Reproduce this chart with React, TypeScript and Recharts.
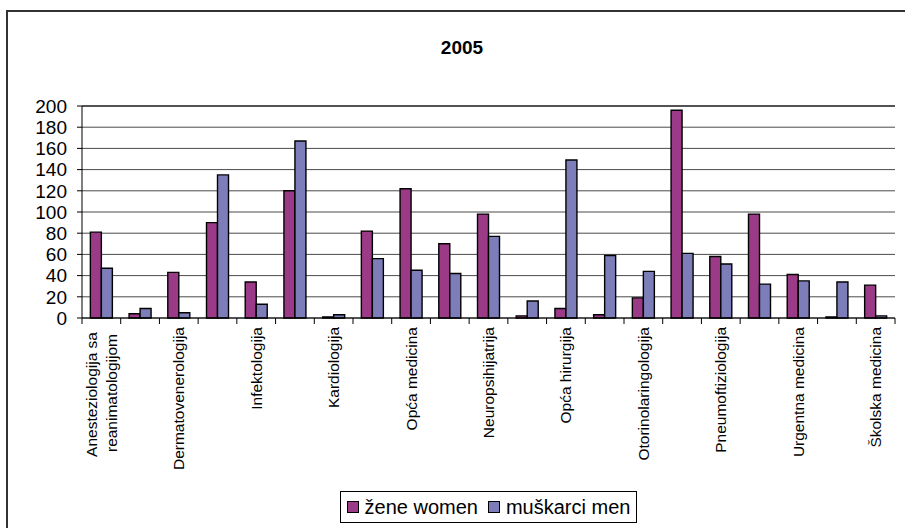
import React from "react";
import {
  BarChart,
  Bar,
  XAxis,
  YAxis,
  CartesianGrid,
  Legend,
  ReferenceLine,
} from "recharts";

const title = "2005";

// only every other category name is printed on the axis
const specialties = [
  "Anesteziologija sa\nreanimatologijom",
  "Citologija",
  "Dermatovenerologija",
  "Ginekologija i akušerstvo",
  "Infektologija",
  "Interna medicina",
  "Kardiologija",
  "Medicina rada",
  "Opća medicina",
  "Neurologija",
  "Neuropsihijatrija",
  "Neurohirurgija",
  "Opća hirurgija",
  "Ortopedija",
  "Otorinolaringologija",
  "Pedijatrija",
  "Pneumoftiziologija",
  "Psihijatrija",
  "Urgentna medicina",
  "Urologija",
  "Školska medicina",
];

const women = [81, 4, 43, 90, 34, 120, 1, 82, 122, 70, 98, 2, 9, 3, 19, 196, 58, 98, 41, 1, 31];
const men = [47, 9, 5, 135, 13, 167, 3, 56, 45, 42, 77, 16, 149, 59, 44, 61, 51, 32, 35, 34, 2];

const yTicks = [0, 20, 40, 60, 80, 100, 120, 140, 160, 180, 200];

const womenName = "žene women";
const menName = "muškarci men";
const seriesOrder = [womenName, menName];
const womenColor = "#9B3A87";
const menColor = "#7D7DBA";

const font = "'Liberation Sans', Arial, sans-serif";

const data = specialties.map((name, i) => ({
  name,
  zene: women[i],
  muski: men[i],
}));

const CategoryTick = (props: any) => {
  const { x, y, payload, index } = props;
  const n = specialties.length;
  const half = payload && payload.offset ? payload.offset : (props.width || 813) / n / 2;
  const lines = String(payload.value).split("\n");
  return (
    <g>
      <line x1={x - half} x2={x - half} y1={y} y2={y + 6} stroke="#000" />
      {index === n - 1 && (
        <line x1={x + half} x2={x + half} y1={y} y2={y + 6} stroke="#000" />
      )}
      {index % 2 === 0 &&
        lines.map((line, k) => {
          const shift = lines.length === 1 ? 0 : k === 0 ? -10 : 10;
          const top = lines.length === 1 ? 9 : k === 0 ? 14 : 16;
          return (
            <text
              key={k}
              transform={`translate(${x + shift},${y + top}) rotate(-90)`}
              textAnchor="end"
              dy="0.35em"
              fontSize={15.5}
              fontFamily={font}
              fill="#000"
            >
              {line}
            </text>
          );
        })}
    </g>
  );
};

const LegendBox = (props: any) => {
  const items = [...(props.payload || [])].sort(
    (a: any, b: any) => seriesOrder.indexOf(a.value) - seriesOrder.indexOf(b.value)
  );
  return (
    <div
      style={{
        display: "inline-flex",
        alignItems: "center",
        height: 30,
        border: "1px solid #000",
        background: "#fff",
        padding: "0 6px",
        fontFamily: font,
        fontSize: 20,
        color: "#000",
        whiteSpace: "nowrap",
      }}
    >
      {items.map((item: any, i: number) => (
        <span
          key={item.value}
          style={{
            display: "inline-flex",
            alignItems: "center",
            marginRight: i < items.length - 1 ? 10 : 0,
          }}
        >
          <span
            style={{
              display: "inline-block",
              width: 10,
              height: 10,
              background: item.color,
              border: "1px solid #000",
              marginRight: 6,
            }}
          />
          {item.value}
        </span>
      ))}
    </div>
  );
};

export default function App() {
  return (
    <div
      style={{
        position: "fixed",
        left: 0,
        top: 0,
        width: 905,
        height: 528,
        overflow: "hidden",
        background: "#fff",
      }}
    >
      <div
        style={{
          position: "absolute",
          left: 6,
          top: 10,
          width: 1000,
          height: 1000,
          border: "2px solid #333",
        }}
      />
      <div
        style={{
          position: "absolute",
          left: 0,
          top: 38,
          width: 924,
          textAlign: "center",
          fontFamily: font,
          fontWeight: "bold",
          fontSize: 19,
          lineHeight: "19px",
          color: "#000",
        }}
      >
        {title}
      </div>
      <div style={{ position: "absolute", left: 0, top: 0 }}>
        <BarChart
          width={905}
          height={528}
          data={data}
          margin={{ top: 106, right: 10, bottom: 38, left: 0 }}
          barCategoryGap="21.6%"
          barGap={0}
        >
          <CartesianGrid vertical={false} stroke="#4a4a4a" />
          <ReferenceLine y={200} stroke="#000" />
          <XAxis
            dataKey="name"
            interval={0}
            height={172}
            tickLine={false}
            tickSize={0}
            tickMargin={0}
            axisLine={{ stroke: "#000" }}
            tick={<CategoryTick />}
          />
          <YAxis
            width={82}
            domain={[0, 200]}
            ticks={yTicks}
            interval={0}
            tickSize={5}
            tickMargin={10}
            axisLine={{ stroke: "#000" }}
            tickLine={{ stroke: "#000" }}
            tick={{ fontSize: 19, fontFamily: font, fill: "#000" }}
          />
          <Legend
            verticalAlign="middle"
            content={<LegendBox />}
            wrapperStyle={{ top: 491, left: 82, width: 813, textAlign: "center" }}
          />
          <Bar
            dataKey="zene"
            name={womenName}
            fill={womenColor}
            stroke="#000"
            strokeWidth={1.4}
            isAnimationActive={false}
          />
          <Bar
            dataKey="muski"
            name={menName}
            fill={menColor}
            stroke="#000"
            strokeWidth={1.4}
            isAnimationActive={false}
          />
        </BarChart>
      </div>
    </div>
  );
}
